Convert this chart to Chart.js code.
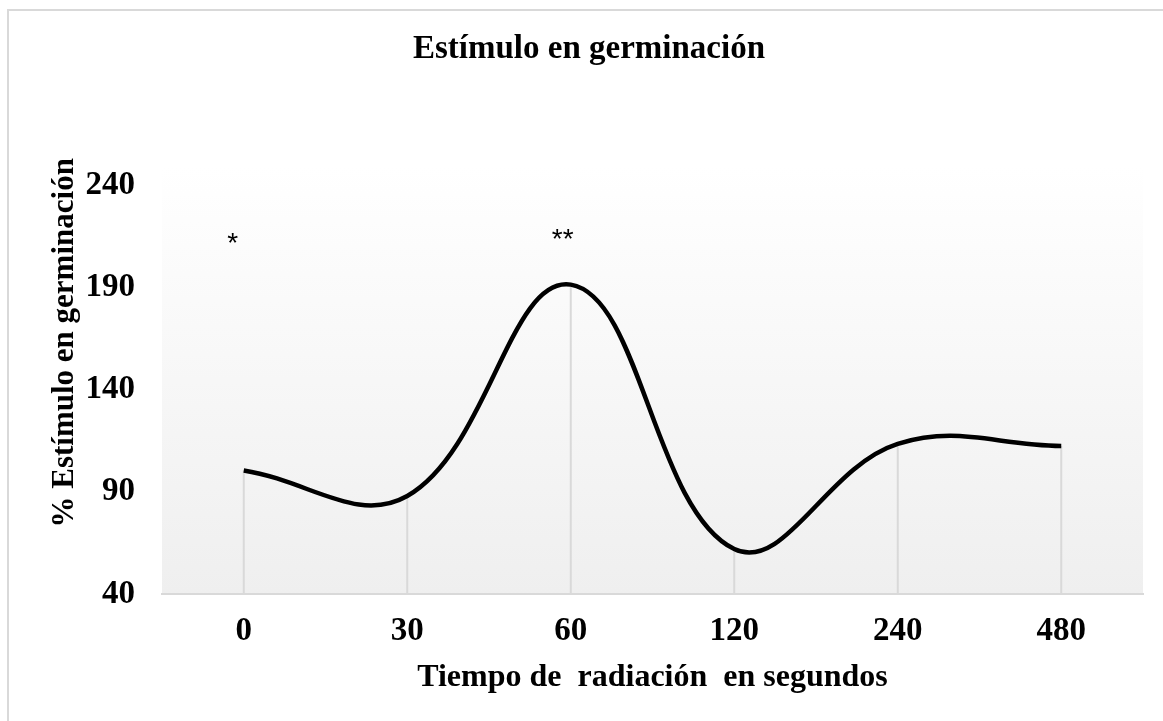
<!DOCTYPE html>
<html>
<head>
<meta charset="utf-8">
<script src="https://cdn.jsdelivr.net/npm/chart.js@4.4.1/dist/chart.umd.min.js"></script>
<style>
  html, body { margin: 0; padding: 0; background: #fff; }
  #wrap { width: 1163px; height: 721px; }
</style>
</head>
<body>
<div id="wrap"><canvas id="chart"></canvas></div>
<script>
// Data
const tiempos = ['0', '30', '60', '120', '240', '480'];
const estimulo = [100.5, 88, 191.5, 62, 113.5, 112.5];
const marcas = ['*', '', '**', '', '', ''];
const yTicks = [40, 90, 140, 190, 240];
const tituloY = '% Estímulo en germinación';

const serif = "'Liberation Serif', 'Times New Roman', serif";

// Outer frame + plot gradient
const fondo = {
  id: 'fondo',
  beforeDraw(chart) {
    const { ctx, chartArea: a } = chart;
    ctx.save();
    ctx.fillStyle = '#fff';
    ctx.fillRect(0, 0, chart.width, chart.height);
    ctx.strokeStyle = '#d9d9d9';
    ctx.lineWidth = 2;
    ctx.strokeRect(8, 10, chart.width + 20, chart.height + 20);
    const top = a.top - 19;
    const g = ctx.createLinearGradient(0, top, 0, a.bottom);
    g.addColorStop(0, '#ffffff');
    g.addColorStop(1, '#efefef');
    ctx.fillStyle = g;
    ctx.fillRect(a.left, top, a.right - a.left, a.bottom - top);
    ctx.restore();
  },
  // y title sits a bit above the middle of the axis, as in Excel
  afterDraw(chart) {
    const { ctx, chartArea: a } = chart;
    ctx.save();
    ctx.translate(65, (a.top + a.bottom) / 2 - 47);
    ctx.rotate(-Math.PI / 2);
    ctx.fillStyle = '#000';
    ctx.font = 'bold 31px ' + serif;
    ctx.textAlign = 'center';
    ctx.textBaseline = 'middle';
    ctx.fillText(tituloY, 0, 0);
    ctx.restore();
  }
};

// Drop lines from each point and the asterisk marks
const lineas = {
  id: 'lineas',
  beforeDatasetsDraw(chart) {
    const { ctx, chartArea: a } = chart;
    const meta = chart.getDatasetMeta(0);
    ctx.save();
    ctx.strokeStyle = '#d9d9d9';
    ctx.lineWidth = 2;
    meta.data.forEach(p => {
      ctx.beginPath();
      ctx.moveTo(p.x, p.y);
      ctx.lineTo(p.x, a.bottom);
      ctx.stroke();
    });
    ctx.restore();
  },
  afterDatasetsDraw(chart) {
    const { ctx } = chart;
    const xs = chart.scales.x, ys = chart.scales.y;
    ctx.save();
    ctx.fillStyle = '#000';
    ctx.font = "28px 'Liberation Sans', Arial, sans-serif";
    ctx.textAlign = 'center';
    ctx.textBaseline = 'middle';
    marcas.forEach((m, i) => {
      if (!m) return;
      const x = xs.getPixelForValue(i) - (m.length > 1 ? 8 : 11);
      const y = ys.getPixelForValue(214) + (m.length > 1 ? 2 : 6);
      ctx.fillText(m, x, y);
    });
    ctx.restore();
  }
};

new Chart(document.getElementById('chart'), {
  type: 'line',
  data: {
    labels: tiempos,
    datasets: [{
      data: estimulo,
      borderColor: '#000',
      borderWidth: 4.5,
      pointRadius: 0,
      tension: 0.4,
      fill: false
    }]
  },
  plugins: [fondo, lineas],
  options: {
    responsive: true,
    maintainAspectRatio: false,
    animation: false,
    layout: { padding: { top: 0, right: 20, bottom: 0, left: 35 } },
    plugins: {
      legend: { display: false },
      tooltip: { enabled: false },
      title: {
        display: true,
        text: 'Estímulo en germinación',
        color: '#000',
        font: { family: serif, size: 33, weight: 'bold' },
        padding: { top: 30, bottom: 116 }
      }
    },
    scales: {
      x: {
        offset: true,
        grid: { display: false, drawTicks: false },
        border: { display: true, color: '#d9d9d9', width: 2 },
        ticks: { color: '#000', font: { family: serif, size: 33, weight: 'bold' }, padding: 18 },
        title: {
          display: true,
          text: 'Tiempo de  radiación  en segundos',
          color: '#000',
          font: { family: serif, size: 32, weight: 'bold' },
          padding: { top: 0, bottom: 24 }
        },
        afterFit(s) { s.height = 127; }
      },
      y: {
        min: 40,
        max: 240,
        afterBuildTicks(s) { s.ticks = yTicks.map(v => ({ value: v })); },
        grid: { display: false, drawTicks: false },
        border: { display: false },
        ticks: { color: '#000', font: { family: serif, size: 33, weight: 'bold' }, padding: 27 },
        afterFit(s) { s.width = 127; }
      }
    }
  }
});
</script>
</body>
</html>
